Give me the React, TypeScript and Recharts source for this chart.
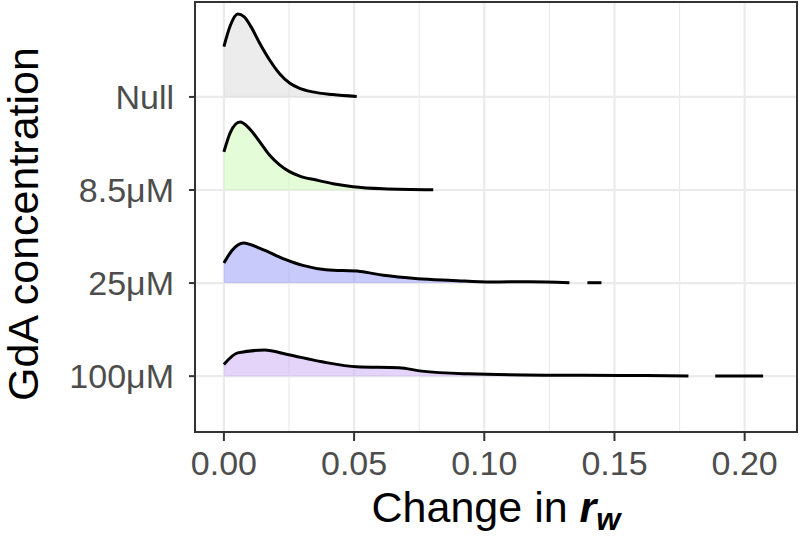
import { ComposedChart, Area, XAxis, YAxis, CartesianGrid, ReferenceArea } from 'recharts';

// ridge heights (x = change in r_w, h = scaled density)
const nullRidge = [
    { x: 0, h: 0.54 }, { x: 0.0025, h: 0.77 }, { x: 0.0053, h: 0.89 }, { x: 0.0078, h: 0.86 },
    { x: 0.0105, h: 0.75 }, { x: 0.0137, h: 0.58 }, { x: 0.0175, h: 0.40 }, { x: 0.0214, h: 0.25 },
    { x: 0.0252, h: 0.15 }, { x: 0.0291, h: 0.093 }, { x: 0.0341, h: 0.054 }, { x: 0.0418, h: 0.025 },
    { x: 0.051, h: 0.005 },
];
const ridge85 = [
    { x: 0, h: 0.41 }, { x: 0.0025, h: 0.62 }, { x: 0.0062, h: 0.73 }, { x: 0.0098, h: 0.66 },
    { x: 0.0137, h: 0.52 }, { x: 0.0175, h: 0.376 }, { x: 0.0214, h: 0.27 }, { x: 0.0252, h: 0.197 },
    { x: 0.0291, h: 0.15 }, { x: 0.0355, h: 0.107 }, { x: 0.0419, h: 0.068 }, { x: 0.0496, h: 0.036 },
    { x: 0.0611, h: 0.014 }, { x: 0.0804, h: 0.003 },
];
const ridge25 = [
    { x: 0, h: 0.215 }, { x: 0.0031, h: 0.35 }, { x: 0.0075, h: 0.43 }, { x: 0.0141, h: 0.37 },
    { x: 0.023, h: 0.26 }, { x: 0.0303, h: 0.19 }, { x: 0.0392, h: 0.143 }, { x: 0.0524, h: 0.125 },
    { x: 0.0613, h: 0.083 }, { x: 0.0745, h: 0.047 }, { x: 0.0878, h: 0.029 }, { x: 0.1025, h: 0.011 },
    { x: 0.1172, h: 0.015 }, { x: 0.1327, h: 0.004 },
];
const ridge25Tail = [{ x: 0.1396, h: 0.004 }, { x: 0.145, h: 0.004 }];
const ridge100 = [
    { x: 0, h: 0.125 }, { x: 0.0053, h: 0.25 }, { x: 0.0156, h: 0.28 }, { x: 0.0244, h: 0.233 },
    { x: 0.0377, h: 0.154 }, { x: 0.051, h: 0.10 }, { x: 0.0672, h: 0.09 }, { x: 0.076, h: 0.054 },
    { x: 0.0937, h: 0.025 }, { x: 0.1231, h: 0.011 }, { x: 0.1526, h: 0.008 }, { x: 0.1784, h: 0.002 },
];
const ridge100Tail = [{ x: 0.1887, h: 0.002 }, { x: 0.2071, h: 0.001 }];

const categories = ['100μM', '25μM', '8.5μM', 'Null'];
const xTicks = [0, 0.05, 0.1, 0.15, 0.2];
const xMinorTicks = [0.025, 0.075, 0.125, 0.175];
const xDomain: [number, number] = [-0.0111, 0.2201];
const yDomain: [number, number] = [-0.6, 4.02];

const series = [
    { key: 'null', pts: nullRidge, row: 3, fill: '#d9d9d9' },
    { key: 'r85', pts: ridge85, row: 2, fill: '#caf9b1' },
    { key: 'r25', pts: ridge25, row: 1, fill: '#9195f9' },
    { key: 'r25t', pts: ridge25Tail, row: 1, fill: '#9195f9' },
    { key: 'r100', pts: ridge100, row: 0, fill: '#cba9f5' },
    { key: 'r100t', pts: ridge100Tail, row: 0, fill: '#cba9f5' },
];

const chartData = series
    .flatMap(s => s.pts.map(p => ({ x: p.x, [s.key]: s.row + p.h })))
    .sort((a, b) => a.x - b.x);

const XTitle = (props: any) => {
    const vb = props.viewBox;
    const cx = vb.x + vb.width / 2;
    return (
        <text x={cx} y={vb.y + 90} textAnchor="middle" fontSize={43} fill="#000">
            Change in{' '}
            <tspan fontWeight="bold" fontStyle="italic">r</tspan>
            <tspan fontWeight="bold" fontStyle="italic" fontSize={31} dy={8}>w</tspan>
        </text>
    );
};

const YTitle = (props: any) => {
    const vb = props.viewBox;
    const cy = vb.y + vb.height / 2 + 7;
    return (
        <text x={38} y={cy} transform={`rotate(-90, 38, ${cy})`} textAnchor="middle" fontSize={43} fill="#000">
            GdA concentration
        </text>
    );
};

export default function App() {
    return (
        <div style={{ position: 'absolute', left: 0, top: 0, fontFamily: '"Liberation Sans", Arial, sans-serif' }}>
            <ComposedChart width={800} height={537} data={chartData} margin={{ top: 2, right: 3, left: 0, bottom: 0 }}>
                {/* minor grid */}
                <CartesianGrid
                    horizontal={false}
                    stroke="#ebebeb"
                    strokeWidth={1.2}
                    verticalCoordinatesGenerator={({ offset }: any) =>
                        xMinorTicks.map(v => offset.left + ((v - xDomain[0]) / (xDomain[1] - xDomain[0])) * offset.width)
                    }
                />
                {/* major grid */}
                <CartesianGrid stroke="#ebebeb" strokeWidth={2.2} />
                <XAxis
                    type="number"
                    dataKey="x"
                    domain={xDomain}
                    allowDataOverflow
                    ticks={xTicks}
                    tickFormatter={(v: number) => v.toFixed(2)}
                    height={105}
                    axisLine={false}
                    tickSize={9}
                    tickMargin={10}
                    tickLine={{ stroke: '#333333', strokeWidth: 2 }}
                    tick={{ fill: '#4d4d4d', fontSize: 34 }}
                    label={<XTitle />}
                />
                <YAxis
                    type="number"
                    domain={yDomain}
                    allowDataOverflow
                    ticks={[0, 1, 2, 3]}
                    tickFormatter={(v: number) => categories[v]}
                    width={195}
                    axisLine={false}
                    tickSize={6}
                    tickMargin={15}
                    tickLine={{ stroke: '#333333', strokeWidth: 2 }}
                    tick={{ fill: '#4d4d4d', fontSize: 34 }}
                    label={<YTitle />}
                />
                {series.map(s => (
                    <Area
                        key={s.key}
                        type="monotone"
                        dataKey={s.key}
                        baseValue={s.row}
                        connectNulls
                        stroke="#000"
                        strokeWidth={3}
                        fill={s.fill}
                        fillOpacity={0.5}
                        dot={false}
                        activeDot={false}
                        isAnimationActive={false}
                    />
                ))}
                <ReferenceArea x1={xDomain[0]} x2={xDomain[1]} y1={yDomain[0]} y2={yDomain[1]} fill="none" stroke="#333333" strokeWidth={2} fillOpacity={0} />
            </ComposedChart>
        </div>
    );
}
